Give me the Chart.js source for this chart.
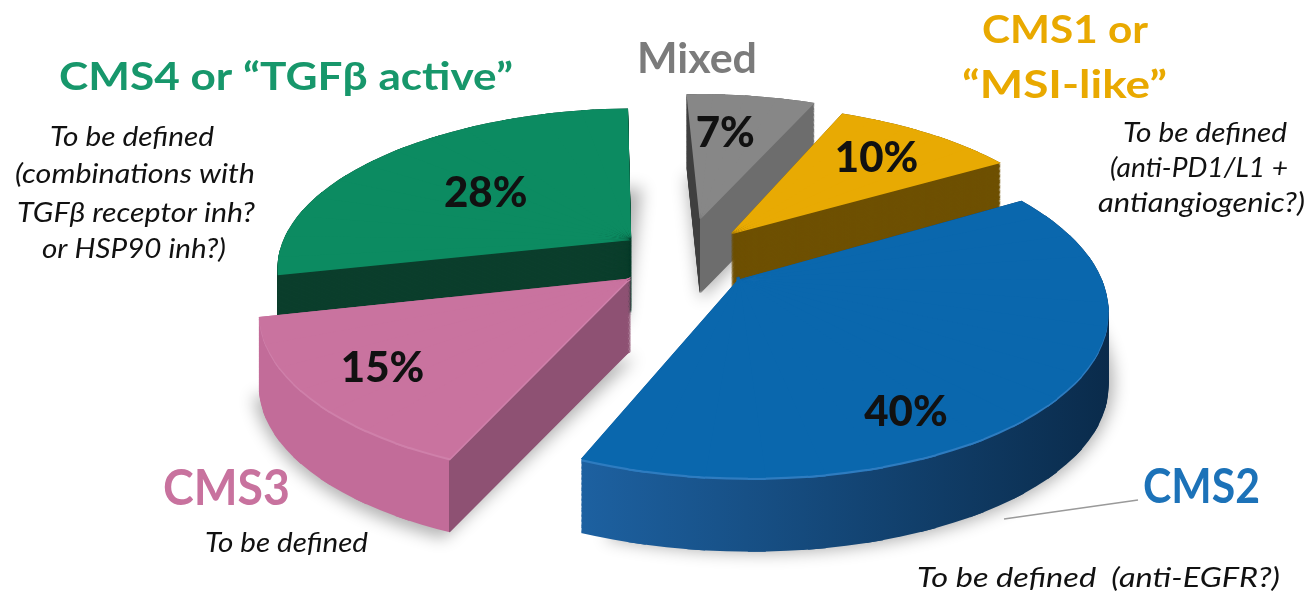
<!DOCTYPE html>
<html>
<head>
<meta charset="utf-8">
<title>Consensus molecular subtypes</title>
<script src="https://cdn.jsdelivr.net/npm/chart.js@4.4.1/dist/chart.umd.min.js"></script>
<style>
  html, body { margin: 0; padding: 0; background: #ffffff; }
  #wrap { width: 1314px; height: 600px; position: relative; }
</style>
</head>
<body>
<div id="wrap"><canvas id="pie"></canvas></div>
<script>
// ---- data ----
const subtypes = ['Mixed', 'CMS1', 'CMS2', 'CMS3', 'CMS4'];
const shares = [7, 10, 40, 15, 28];
const shareLabels = shares.map(v => v + '%');

// ---- colours ----
const topColors  = ['#878787', '#e8aa03', '#0a67ad', '#c9739f', '#0c8b61'];
const sideLeft   = ['#3f3f3f', '#6e5002', '#1d61a1', '#c26c99', '#0b3e2c'];
const sideRight  = ['#6d6d6d', '#6e5002', '#0a2b4b', '#8e5173', '#0b3e2c'];
const sideMode   = ['apex', 'flat', 'sweep', 'start', 'flat'];
const rimGlow    = [null, null, '#2e7cc0', '#cf80aa', null];

// ---- 3D view of the pie ----
const view = {
  centerX: 684, centerY: 258,   // screen position of the pie centre
  radius: 355,                  // pie radius in px at the centre depth
  distance: 5.3,                // camera distance, in pie radii
  tilt: 26.5,                   // camera elevation, degrees
  thickness: 74,                // slab thickness, px
  firstSliceAngle: 10.5,        // centre of the first slice, degrees clockwise from 12 o'clock
  explode: [0.25, 0.2, 0.2, 0.2, 0.19],
  // label anchor per slice: [fraction of radius, angle nudge in degrees]
  labelAnchor: [[0.68, -3], [0.74, -1], [0.8, 20], [0.78, 1], [0.56, -1]]
};

// ---- surrounding text ----
const titleFont = '700 39px Lato';
const noteFont = 'italic 400 27px Lato';
const texts = [
  { t: 'CMS4 or \u201CTGF\u03B2 active\u201D', x: 59, y: 90, w: 454, font: titleFont, color: '#17976b' },
  { t: 'To be defined', x: 50, y: 146, w: 164, font: noteFont, color: '#111111' },
  { t: '(combinations with', x: 15, y: 183, w: 240, font: noteFont, color: '#111111' },
  { t: 'TGF\u03B2 receptor inh?', x: 17, y: 222, w: 238, font: noteFont, color: '#111111' },
  { t: 'or HSP90 inh?)', x: 42, y: 258, w: 184, font: noteFont, color: '#111111' },
  { t: 'Mixed', x: 637, y: 73, w: 120, font: '700 42px Lato', color: '#7b7b7b' },
  { t: 'CMS1 or', x: 982, y: 43, w: 166, font: titleFont, color: '#e9a900' },
  { t: '\u201CMSI-like\u201D', x: 962, y: 98, w: 205, font: titleFont, color: '#e9a900' },
  { t: 'To be defined', x: 1123, y: 142, w: 164, font: noteFont, color: '#111111' },
  { t: '(anti-PD1/L1 +', x: 1110, y: 177, w: 178, font: noteFont, color: '#111111' },
  { t: 'antiangiogenic?)', x: 1098, y: 212, w: 207, font: noteFont, color: '#111111' },
  { t: 'CMS3', x: 163, y: 505, w: 127, font: '700 49px Lato', color: '#c8729e' },
  { t: 'To be defined', x: 205, y: 552, w: 163, font: noteFont, color: '#111111' },
  { t: 'CMS2', x: 1143, y: 503, w: 117, font: '700 47px Lato', color: '#1c72b8' },
  { t: 'To be defined  (anti-EGFR?)', x: 917, y: 587, w: 363, font: noteFont, color: '#111111' }
];
const leader = { from: [1004, 519], to: [1138, 500], color: '#9a9a9a' };

// ---- projection helpers ----
// (X, Y) on the pie plane in radii, drop = 0 at the top face, 1 at the bottom face
function project(X, Y, drop) {
  const a = view.tilt * Math.PI / 180;
  const ca = Math.cos(a), sa = Math.sin(a);
  const depth = view.distance + Y * ca;
  const f = view.distance * view.radius;
  return [view.centerX + f * X / depth, view.centerY - f * Y * sa / depth + drop * view.thickness];
}

function det3(m) {
  return m[0][0] * (m[1][1] * m[2][2] - m[1][2] * m[2][1])
       - m[0][1] * (m[1][0] * m[2][2] - m[1][2] * m[2][0])
       + m[0][2] * (m[1][0] * m[2][1] - m[1][1] * m[2][0]);
}
function solve3(m, b) {
  const d = det3(m);
  const out = [];
  for (let k = 0; k < 3; k++) {
    const mk = m.map((row, r) => row.map((v, c) => (c === k ? b[r] : v)));
    out.push(det3(mk) / d);
  }
  return out;
}
// least-squares affine map from canvas points to projected points
function fitAffine(pairs) {
  const m = [[0, 0, 0], [0, 0, 0], [0, 0, 0]], bx = [0, 0, 0], by = [0, 0, 0];
  for (const [px, py, sx, sy, w] of pairs) {
    const v = [px, py, 1];
    for (let i = 0; i < 3; i++) {
      for (let j = 0; j < 3; j++) m[i][j] += w * v[i] * v[j];
      bx[i] += w * v[i] * sx;
      by[i] += w * v[i] * sy;
    }
  }
  const rx = solve3(m, bx), ry = solve3(m, by);
  return { a: rx[0], c: rx[1], e: rx[2], b: ry[0], d: ry[1], f: ry[2] };
}

// gradient whose colour only changes with screen x, built in the arc's own space
function screenXGradient(ctx, A, x0, x1, stops) {
  const n = A.a * A.a + A.c * A.c;
  const s0 = (x0 - A.e) / n, s1 = (x1 - A.e) / n;
  const g = ctx.createLinearGradient(s0 * A.a, s0 * A.c, s1 * A.a, s1 * A.c);
  stops.forEach(([o, c]) => g.addColorStop(o, c));
  return g;
}

// draws (part of) a Chart.js arc element through an affine map
function paintArc(ctx, arc, A, fill, a0, a1) {
  const el = Object.create(arc);
  el.options = Object.assign({}, arc.options, { backgroundColor: fill, borderWidth: 0, offset: 0 });
  if (a0 !== undefined) {
    el.startAngle = a0;
    el.endAngle = a1;
    el.circumference = a1 - a0;
  }
  ctx.save();
  ctx.transform(A.a, A.b, A.c, A.d, A.e, A.f);
  el.draw(ctx);
  ctx.restore();
}

function sliceGeometry(arc, i) {
  const R = arc.outerRadius;
  const mid = (arc.startAngle + arc.endAngle) / 2;
  const ex = Math.cos(mid) * view.explode[i], ey = -Math.sin(mid) * view.explode[i];
  const toScreen = (u, v, drop) => project(u + ex, v + ey, drop);
  const fitRange = (a0, a1, drop, N) => {
    const pairs = [];
    const add = (px, py, w) => {
      const s = toScreen((px - arc.x) / R, -(py - arc.y) / R, drop);
      pairs.push([px, py, s[0], s[1], w]);
    };
    add(arc.x, arc.y, 3);
    for (let k = 0; k <= N; k++) {
      const a = a0 + (a1 - a0) * k / N;
      add(arc.x + R * Math.cos(a), arc.y + R * Math.sin(a), 1);
      add(arc.x + 0.5 * R * Math.cos(a), arc.y + 0.5 * R * Math.sin(a), 0.5);
    }
    return fitAffine(pairs);
  };
  // split the slice into narrow wedges so the perspective is followed closely
  const span = arc.endAngle - arc.startAngle;
  const n = Math.max(1, Math.ceil(span / (8 * Math.PI / 180)));
  const ov = 1.2 * Math.PI / 180;
  const pieces = [];
  for (let k = 0; k < n; k++) {
    const a0 = arc.startAngle + span * k / n - (k > 0 ? ov : 0);
    const a1 = arc.startAngle + span * (k + 1) / n + (k < n - 1 ? ov : 0);
    pieces.push({ a0, a1, fitAt: d => fitRange(a0, a1, d, 4) });
  }
  const rimXs = [];
  for (let k = 0; k <= 24; k++) {
    const a = arc.startAngle + span * k / 24;
    rimXs.push(toScreen(Math.cos(a), -Math.sin(a), 0)[0]);
  }
  rimXs.push(toScreen(0, 0, 0)[0]);
  return {
    R, mid, toScreen, pieces,
    fitWhole: d => fitRange(arc.startAngle, arc.endAngle, d, 16),
    minX: Math.min(...rimXs), maxX: Math.max(...rimXs)
  };
}

function sideFill(ctx, A, i, arc, g) {
  const mode = sideMode[i];
  if (mode === 'flat') return sideLeft[i];
  if (mode === 'sweep') {
    return screenXGradient(ctx, A, g.minX, g.maxX, [[0, sideLeft[i]], [1, sideRight[i]]]);
  }
  let splitX;
  if (mode === 'apex') splitX = g.toScreen(0, 0, 0)[0];
  else splitX = g.toScreen(Math.cos(arc.startAngle), -Math.sin(arc.startAngle), 0)[0];
  return screenXGradient(ctx, A, splitX - 0.5, splitX + 0.5,
    [[0, sideLeft[i]], [0.5, sideLeft[i]], [0.5, sideRight[i]], [1, sideRight[i]]]);
}

function drawSlice(ctx, arc, i) {
  const g = sliceGeometry(arc, i);
  // soft shadow under the slab (shape drawn off-canvas, only its shadow lands here)
  ctx.save();
  ctx.shadowColor = 'rgba(0,0,0,0.30)';
  ctx.shadowBlur = 16;
  ctx.shadowOffsetX = -3000;
  ctx.shadowOffsetY = 8;
  ctx.translate(3000, 0);
  paintArc(ctx, arc, g.fitWhole(1), '#000000');
  ctx.restore();
  // slab walls, bottom to top
  const steps = 60;
  for (let s = 0; s <= steps; s++) {
    const d = 1 - s / steps;
    g.pieces.forEach(p => {
      const A = p.fitAt(d);
      paintArc(ctx, arc, A, sideFill(ctx, A, i, arc, g), p.a0, p.a1);
    });
  }
  if (rimGlow[i]) {
    g.pieces.forEach(p => paintArc(ctx, arc, p.fitAt(0.03), rimGlow[i], p.a0, p.a1));
  }
  g.pieces.forEach(p => paintArc(ctx, arc, p.fitAt(0), topColors[i], p.a0, p.a1));
}

const pie3d = {
  id: 'pie3d',
  beforeDatasetsDraw(chart) {
    const ctx = chart.ctx;
    const arcs = chart.getDatasetMeta(0).data;
    const back = a => -Math.sin((a.startAngle + a.endAngle) / 2);
    const order = arcs.map((a, i) => i).sort((p, q) => back(arcs[q]) - back(arcs[p]));
    order.forEach(i => drawSlice(ctx, arcs[i], i));
    return false;
  },
  afterDraw(chart) {
    const ctx = chart.ctx;
    const arcs = chart.getDatasetMeta(0).data;
    // value labels on the top faces
    arcs.forEach((arc, i) => {
      const mid = (arc.startAngle + arc.endAngle) / 2;
      const ex = Math.cos(mid) * view.explode[i], ey = -Math.sin(mid) * view.explode[i];
      const [rf, nudge] = view.labelAnchor[i];
      const a = mid + nudge * Math.PI / 180;
      const p = project(ex + rf * Math.cos(a), ey - rf * Math.sin(a), 0);
      ctx.save();
      ctx.font = '900 42px Lato';
      ctx.fillStyle = '#111111';
      ctx.textAlign = 'center';
      ctx.textBaseline = 'alphabetic';
      ctx.fillText(shareLabels[i], p[0], p[1] + 15);
      ctx.restore();
    });
    // leader line to the CMS2 caption
    ctx.save();
    ctx.strokeStyle = leader.color;
    ctx.lineWidth = 1.5;
    ctx.beginPath();
    ctx.moveTo(leader.from[0], leader.from[1]);
    ctx.lineTo(leader.to[0], leader.to[1]);
    ctx.stroke();
    ctx.restore();
    // captions and notes
    texts.forEach(tx => {
      ctx.save();
      ctx.font = tx.font;
      ctx.fillStyle = tx.color;
      ctx.textAlign = 'left';
      ctx.textBaseline = 'alphabetic';
      const w = ctx.measureText(tx.t).width;
      ctx.translate(tx.x, tx.y);
      ctx.scale(tx.w / w, 1);
      ctx.fillText(tx.t, 0, 0);
      ctx.restore();
    });
  }
};

const total = shares.reduce((s, v) => s + v, 0);
new Chart(document.getElementById('pie'), {
  type: 'pie',
  data: {
    labels: subtypes,
    datasets: [{ data: shares, backgroundColor: topColors, borderWidth: 0, offset: 0 }]
  },
  options: {
    responsive: true,
    maintainAspectRatio: false,
    animation: false,
    events: [],
    radius: 200,
    rotation: view.firstSliceAngle - shares[0] / total * 180,
    plugins: { legend: { display: false }, tooltip: { enabled: false } }
  },
  plugins: [pie3d]
});
</script>
</body>
</html>
